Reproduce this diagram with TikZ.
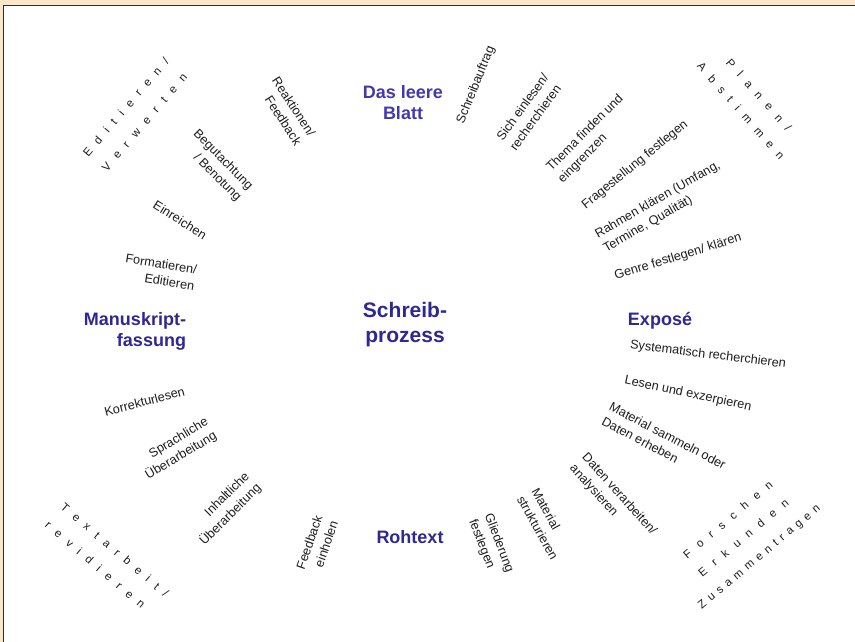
\documentclass[tikz,border=0pt]{standalone}
\usepackage{fontspec}
\setmainfont{Liberation Sans}
\definecolor{peach}{HTML}{FCE7C8}
\definecolor{frameline}{HTML}{2E2E2E}
\definecolor{ttlblue}{HTML}{2F2794}
\definecolor{ttllight}{HTML}{4338B0}
\definecolor{ink}{HTML}{1E1E1E}
\makeatletter
\newcommand\trk[2]{\def\trk@s{#1}\@tfor\trk@c:=#2\do{\trk@c\hspace{\trk@s}}\unskip}
\makeatother
\begin{document}
\begin{tikzpicture}[x=1pt,y=-1pt,
  small/.style={font=\fontsize{12.7}{16.5}\selectfont, text=ink, inner sep=0pt},
  ttl/.style={font=\bfseries\fontsize{18}{21}\selectfont, text=ttlblue, inner sep=0pt},
  big/.style={font=\bfseries\fontsize{21}{25}\selectfont, text=ttlblue, inner sep=0pt},
  spc/.style={font=\fontsize{11.5}{24}\selectfont, text=ink, inner sep=0pt}]
\useasboundingbox (0,0) rectangle (855,642);
\fill[peach] (0,0) rectangle (855,642);
\fill[white] (4,5) rectangle (855,642);
\draw[frameline, line width=1.3pt] (3.8,642) -- (3.8,5.2) -- (855,5.2);

% centre
\node[big, align=center] (centre) at (405,325) {Schreib-\\prozess};

% phase titles
\node[ttl, text=ttllight, align=center] (blatt) at (403,103) {Das leere\\Blatt};
\node[ttl] (expose) at (660,321) {Exposé};
\node[ttl] (rohtext) at (410,537) {Rohtext};
\node[ttl, align=right] (manu) at (135,331) {Manuskript-\\fassung};

% upper right
\node[small, rotate=68] (auftrag) at (476,85) {Schreibauftrag};
\node[small, rotate=54, align=left] (einlesen) at (529,112) {Sich einlesen/\\recherchieren};
\node[small, rotate=45, align=left] (thema) at (591,139) {Thema finden und\\eingrenzen};
\node[small, rotate=39] (frage) at (635,165) {Fragestellung festlegen};
\node[small, rotate=30, align=left] (rahmen) at (662,207) {Rahmen klären (Umfang,\\Termine, Qualität)};
\node[small, rotate=17] (genre) at (678,257) {Genre festlegen/ klären};
\node[spc, rotate=-48.5, align=center] (planen) at (750,103) {\trk{8.8pt}{Planen/}\\\trk{8.4pt}{Abstimmen}};

% right
\node[small, rotate=-7] (syst) at (708,355) {Systematisch recherchieren};
\node[small, rotate=-12] (lesen) at (688,394) {Lesen und exzerpieren};
\node[small, rotate=-27.5, align=left] (material) at (664,443) {Material sammeln oder\\Daten erheben};
\node[small, rotate=-48, align=left] (daten) at (613,500) {Daten verarbeiten/\\analysieren};
\node[spc, rotate=40, align=center] (forschen) at (744,539) {\trk{9.2pt}{Forschen}\\\trk{9.2pt}{Erkunden}\\\trk{5pt}{Zusammentragen}};

% bottom
\node[small, rotate=-61, align=left] (struk) at (545,524) {Material\\strukturieren};
\node[small, rotate=-69, align=left] (gliederung) at (491,546) {Gliederung\\festlegen};
\node[small, rotate=71, align=right] (feedback) at (317,545) {Feedback\\einholen};

% lower left
\node[small, rotate=45, align=right] (inhalt) at (225,509) {Inhaltliche\\Überarbeitung};
\node[spc, rotate=-40.5, align=left] (textarbeit) at (107,559) {\trk{8.3pt}{Textarbeit/}\\\trk{8.5pt}{revidieren}};
\node[small, rotate=31, align=right] (sprach) at (177,449) {Sprachliche\\Überarbeitung};
\node[small, rotate=15] (korrektur) at (144.5,401.5) {Korrekturlesen};

% upper left
\node[small, rotate=-9, align=right] (format) at (160,272) {Formatieren/\\Editieren};
\node[small, rotate=-32] (einreichen) at (180,220) {Einreichen};
\node[small, rotate=-45, align=right] (begut) at (217,166) {Begutachtung\\/ Benotung};
\node[small, rotate=-57, align=right] (reaktion) at (287,111) {Reaktionen/\\Feedback};
\node[spc, rotate=49.5, align=right] (editieren) at (135,115) {\trk{8.5pt}{Editieren/}\\\trk{9pt}{Verwerten}};
\end{tikzpicture}
\end{document}
